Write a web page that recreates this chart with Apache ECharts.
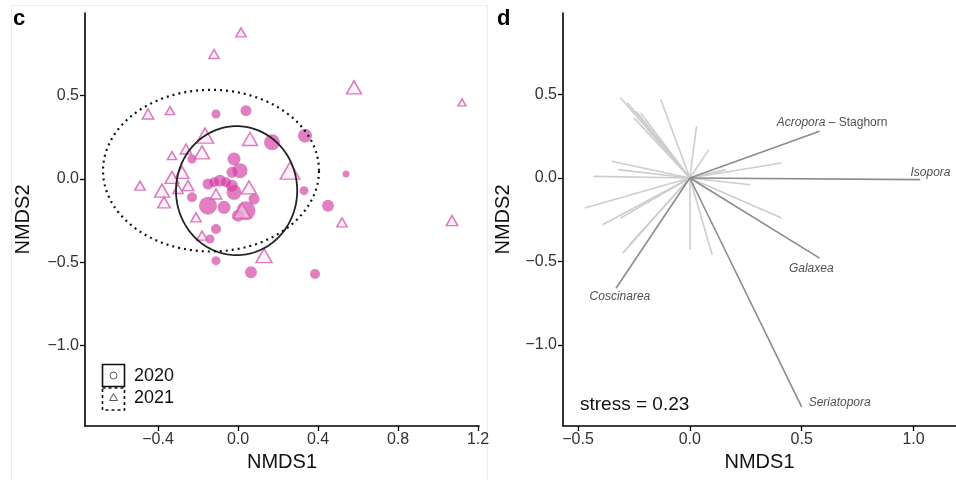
<!DOCTYPE html>
<html><head><meta charset="utf-8">
<script src="https://cdn.jsdelivr.net/npm/echarts@6/dist/echarts.min.js"></script>
<style>html,body{margin:0;padding:0;background:#fff}#c{width:956px;height:480px}</style>
</head><body><div id="c"></div>
<script>
// ---------- Panel c : NMDS site scores ----------
const circX = [0.17, 0.335, -0.02, 0.01, -0.23, -0.15, -0.09, -0.03, -0.03, -0.02, -0.23, -0.15, -0.07, 0.08, 0.04, 0.0, 0.33, 0.54, 0.45, -0.11, -0.14, -0.11, 0.065, 0.385, -0.11, 0.04, -0.12, -0.06];
const circY = [0.22, 0.26, 0.12, 0.05, 0.12, -0.03, -0.01, 0.04, -0.04, -0.08, -0.11, -0.16, -0.17, -0.12, -0.19, -0.22, -0.07, 0.03, -0.16, -0.30, -0.36, -0.49, -0.56, -0.57, 0.39, 0.41, -0.02, -0.02];
const circS = [16, 14, 13, 15, 9, 11, 12, 11, 12, 15, 10, 18, 13, 11, 19, 12, 9, 7, 12, 10, 9, 9, 12, 10, 9, 11, 10, 10];

const triX = [0.015, -0.12, 0.58, 1.12, -0.45, -0.34, -0.165, 0.06, -0.26, -0.18, -0.33, 0.26, -0.28, -0.33, -0.49, -0.25, -0.38, -0.30, -0.11, 0.055, -0.37, -0.21, 0.02, -0.18, 0.13, 0.52, 1.07];
const triY = [0.88, 0.75, 0.55, 0.46, 0.39, 0.41, 0.26, 0.24, 0.18, 0.16, 0.14, 0.05, 0.04, 0.01, -0.04, -0.04, -0.07, -0.06, -0.09, -0.05, -0.14, -0.23, -0.19, -0.34, -0.46, -0.26, -0.25];
const triS = [9, 9, 13, 7, 10, 8, 15, 13, 10, 13, 8, 17, 12, 12, 9, 10, 13, 9, 10, 13, 11, 9, 15, 9, 14, 9, 10];

// ellipses: [2020, 2021]
const ellCx = [-0.007, -0.135];
const ellCy = [-0.07, 0.05];
const ellRx = [0.303, 0.54];
const ellRy = [0.387, 0.485];

const years = ['2020', '2021'];

// ---------- Panel d : species vectors ----------
const vecLightX = [-0.31, -0.28, -0.22, -0.25, -0.24, -0.13, 0.03, 0.085, -0.35, -0.32, -0.43, 0.41, 0.16, 0.27, -0.47, -0.39, -0.31, 0.41, -0.30, -0.27, 0.0, 0.10];
const vecLightY = [0.48, 0.45, 0.39, 0.36, 0.40, 0.47, 0.31, 0.17, 0.10, 0.05, 0.01, 0.09, 0.05, -0.04, -0.18, -0.28, -0.24, -0.24, -0.45, -0.40, -0.43, -0.46];
const vecNames = ['Acropora – Staghorn', 'Isopora', 'Galaxea', 'Seriatopora', 'Coscinarea'];
const vecDarkX = [0.58, 1.03, 0.58, 0.50, -0.33];
const vecDarkY = [0.28, -0.01, -0.48, -1.37, -0.66];
const labelX = [0.636, 1.076, 0.543, 0.670, -0.3125];
const labelY = [0.331, 0.034, -0.541, -1.343, -0.711];
const stressText = 'stress = 0.23';

// ---------- ticks ----------
const xTicksC = [-0.4, 0.0, 0.4, 0.8, 1.2];
const yTicksC = [-1.0, -0.5, 0.0, 0.5];
const xTicksD = [-0.5, 0.0, 0.5, 1.0];
const yTicksD = [-1.0, -0.5, 0.0, 0.5];

const F = '"Liberation Sans", Arial, Helvetica, sans-serif';
const MAG = 'rgba(210,55,160,0.80)';
const fmt = v => (v < -1e-9 ? '\u2212' : '') + Math.abs(v).toFixed(1);

function axis(dim, gi, min, max, ticks, name, gap) {
  return {
    type: 'value', gridIndex: gi, min, max, name,
    nameLocation: 'middle', nameGap: gap,
    nameRotate: dim === 'y' ? 90 : 0,
    nameTextStyle: { fontSize: 20, color: '#111', fontFamily: F },
    axisLine: { show: true, onZero: false, lineStyle: { color: '#000', width: 1.6 } },
    axisTick: { show: true, length: 5, inside: false, customValues: ticks, lineStyle: { color: '#000', width: 1.3 } },
    axisLabel: { show: true, customValues: ticks, formatter: fmt, fontSize: 16, color: '#333', fontFamily: F, margin: 6 },
    splitLine: { show: false }
  };
}

const chart = echarts.init(document.getElementById('c'), null, { renderer: 'canvas' });

const option = {
  backgroundColor: '#fff',
  animation: false,
  grid: [
    { left: 85, right: 956 - 479, top: 13, bottom: 54 },
    { left: 563, right: 0, top: 13, bottom: 54 }
  ],
  xAxis: [
    axis('x', 0, -0.765, 1.205, xTicksC, 'NMDS1', 26),
    axis('x', 1, -0.567, 1.19, xTicksD, 'NMDS1', 26)
  ],
  yAxis: [
    axis('y', 0, -1.482, 0.996, yTicksC, 'NMDS2', 52),
    axis('y', 1, -1.485, 0.988, yTicksD, 'NMDS2', 50)
  ],
  graphic: [
    { type: 'rect', shape: { x: 11.5, y: 5.5, width: 476, height: 480 }, style: { fill: null, stroke: '#ececec', lineWidth: 1 }, z: -10 },
    { type: 'text', left: 13, top: 8, style: { text: 'c', font: 'bold 22px ' + F, fill: '#000' } },
    { type: 'text', left: 497, top: 8, style: { text: 'd', font: 'bold 22px ' + F, fill: '#000' } },
    // legend
    { type: 'rect', shape: { x: 102.5, y: 364.5, width: 22, height: 22 }, style: { fill: null, stroke: '#111', lineWidth: 1.6 } },
    { type: 'rect', shape: { x: 102.5, y: 388, width: 22, height: 22 }, style: { fill: null, stroke: '#111', lineWidth: 1.6, lineDash: [3, 3] } },
    { type: 'circle', shape: { cx: 113.5, cy: 375.5, r: 3.5 }, style: { fill: null, stroke: '#555', lineWidth: 1 } },
    { type: 'polygon', shape: { points: [[113.5, 393.5], [109.5, 400.5], [117.5, 400.5]] }, style: { fill: null, stroke: '#555', lineWidth: 1 } },
    { type: 'text', x: 134, y: 376, style: { text: years[0], font: '18px ' + F, fill: '#111', textVerticalAlign: 'middle' } },
    { type: 'text', x: 134, y: 398.5, style: { text: years[1], font: '18px ' + F, fill: '#111', textVerticalAlign: 'middle' } },
    { type: 'text', x: 580, y: 405, style: { text: stressText, font: '19px ' + F, fill: '#111', textVerticalAlign: 'middle' } }
  ],
  series: [
    {
      type: 'scatter', name: years[0], xAxisIndex: 0, yAxisIndex: 0,
      data: circX.map((x, i) => [x, circY[i], circS[i]]),
      symbol: 'circle', symbolSize: v => v[2],
      itemStyle: { color: MAG, borderWidth: 0 }, z: 2
    },
    {
      type: 'scatter', name: years[1], xAxisIndex: 0, yAxisIndex: 0,
      data: triX.map((x, i) => [x, triY[i], triS[i]]),
      symbol: 'triangle', symbolSize: v => [v[2] * 1.15, v[2]],
      itemStyle: { color: 'rgba(252,228,243,0.65)', borderColor: '#d65aae', borderWidth: 1.5 }, z: 3
    },
    {
      type: 'custom', xAxisIndex: 0, yAxisIndex: 0, z: 4, silent: true,
      data: ellCx.map((cx, i) => [cx, ellCy[i], ellRx[i], ellRy[i], i]),
      encode: { x: 0, y: 1 },
      renderItem: (params, api) => {
        const cx = api.value(0), cy = api.value(1), rx = api.value(2), ry = api.value(3), d = api.value(4);
        const pts = [];
        for (let k = 0; k <= 160; k++) {
          const t = k / 160 * Math.PI * 2;
          pts.push(api.coord([cx + rx * Math.cos(t), cy + ry * Math.sin(t)]));
        }
        return {
          type: 'polyline', shape: { points: pts },
          style: d ? { fill: null, stroke: '#111', lineWidth: 2.2, lineDash: [2, 4] }
                   : { fill: null, stroke: '#222', lineWidth: 1.8 }
        };
      }
    },
    {
      type: 'lines', coordinateSystem: 'cartesian2d', xAxisIndex: 1, yAxisIndex: 1,
      data: vecLightX.map((x, i) => ({ coords: [[0, 0], [x, vecLightY[i]]] })),
      lineStyle: { color: '#cdcdcd', width: 1.6, opacity: 1 }, z: 2, silent: true
    },
    {
      type: 'lines', coordinateSystem: 'cartesian2d', xAxisIndex: 1, yAxisIndex: 1,
      data: vecDarkX.map((x, i) => ({ coords: [[0, 0], [x, vecDarkY[i]]] })),
      lineStyle: { color: '#8c8c8c', width: 1.6, opacity: 1 }, z: 3, silent: true
    },
    {
      type: 'scatter', xAxisIndex: 1, yAxisIndex: 1, symbolSize: 0, silent: true,
      data: labelX.map((x, i) => ({ value: [x, labelY[i]], name: vecNames[i] })),
      label: {
        show: true, position: 'inside', fontSize: 12, fontFamily: F, color: '#222',
        formatter: p => {
          const parts = p.name.split(' – ');
          return parts.length > 1 ? '{i|' + parts[0] + '} – ' + parts[1] : '{i|' + p.name + '}';
        },
        rich: { i: { fontStyle: 'italic', fontSize: 12, fontFamily: F, color: '#222' } }
      }, z: 5
    }
  ]
};
chart.setOption(option);
</script>
</body></html>
